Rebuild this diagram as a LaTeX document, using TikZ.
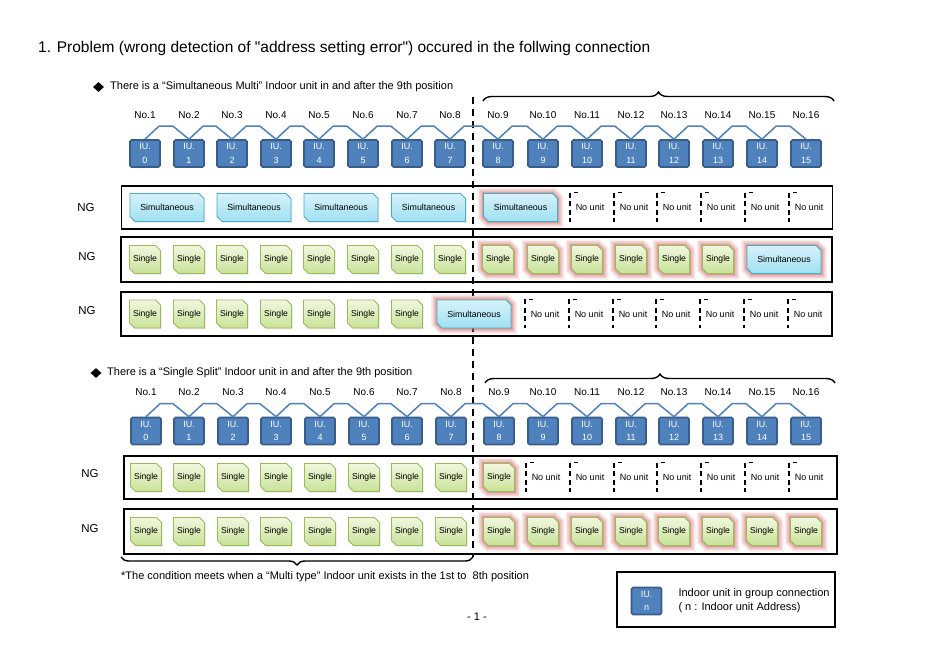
\documentclass[tikz,border=0pt]{standalone}
\usepackage{fontspec}
\setmainfont{Liberation Sans}[Ligatures=TeXOff]
\usetikzlibrary{positioning, calc, shapes.misc, shapes.geometric, decorations.pathreplacing, shadows}
\definecolor{iublue}{RGB}{79,129,189}
\definecolor{iuedge}{RGB}{56,93,138}
\definecolor{simtop}{RGB}{214,242,250}
\definecolor{simbot}{RGB}{160,224,242}
\definecolor{simedge}{RGB}{75,172,198}
\definecolor{singtop}{RGB}{240,247,222}
\definecolor{singbot}{RGB}{200,226,152}
\definecolor{singedge}{RGB}{155,187,89}
\definecolor{glowred}{RGB}{210,110,110}
\tikzset{
  iubox/.style={draw=iuedge, fill=iublue, line width=1.6pt, rounded corners=1.5pt,
    minimum width=30pt, minimum height=27pt, inner sep=0pt, text=white, align=center,
    font=\fontsize{9}{13.5}\selectfont},
  link/.style={draw=iublue, line width=1.5pt, line join=round},
  numlabel/.style={font=\fontsize{10}{12}\selectfont, inner sep=0pt},
  heading/.style={font=\fontsize{11}{13}\selectfont, inner sep=0pt, anchor=west},
  bullet/.style={diamond, fill=black, inner sep=0pt, minimum width=11pt, minimum height=10pt},
  rowframe/.style={draw, line width=1.1pt, inner sep=0pt},
  nglabel/.style={font=\fontsize{11.5}{13}\selectfont, inner sep=0pt},
  unitbox/.style={chamfered rectangle, chamfered rectangle corners={north east,south west},
    chamfered rectangle sep=2.5pt, inner sep=0pt, line width=0.9pt, minimum height=28pt,
    drop shadow={opacity=0.2, shadow xshift=1pt, shadow yshift=-1pt}},
  simbox/.style={unitbox, draw=simedge, top color=simtop, bottom color=simbot,
    minimum width=74pt, font=\fontsize{8.8}{10}\selectfont},
  singlebox/.style={unitbox, draw=singedge, top color=singtop, bottom color=singbot,
    minimum width=31pt, font=\fontsize{8.6}{10}\selectfont},
  hot/.style={preaction={draw=glowred, line width=12pt, opacity=0.12},
    preaction={draw=glowred, line width=9pt, opacity=0.18},
    preaction={draw=glowred, line width=6pt, opacity=0.25},
    preaction={draw=glowred, line width=3pt, opacity=0.35}},
  nounit/.style={font=\fontsize{9}{11}\selectfont, inner sep=0pt},
  slotline/.style={line width=1.1pt, dash pattern=on 5pt off 3.5pt},
  slottick/.style={line width=1pt},
  cutline/.style={line width=1.2pt, dash pattern=on 7pt off 5pt},
  bracestyle/.style={decorate, decoration={brace, amplitude=9pt}, line width=1.4pt},
  plain/.style={font=\fontsize{11}{14}\selectfont, inner sep=0pt}
}
\newcommand{\emptyslot}[3]{% name, position, xshift
  \node[nounit, xshift=#3] (#1) at (#2) {No unit};
  \draw[slotline] ([xshift=-20pt,yshift=15pt]#1.center) -- ([xshift=-20pt,yshift=-14pt]#1.center);
  \draw[slottick] ([xshift=-16pt,yshift=15pt]#1.center) -- ([xshift=-12pt,yshift=15pt]#1.center);}

\begin{document}
\begin{tikzpicture}[x=1pt, y=-1pt]
  \useasboundingbox[fill=white] (0,0) rectangle (936,661);
  \node[anchor=base west, inner sep=0pt, font=\fontsize{15.5}{18}\selectfont] (title) at (38,52.5)
    {1. Problem (wrong detection of "address setting error") occured in the follwing connection};

  % 8th / 9th border, behind the units
  \coordinate (cutTop) at (473,97);
  \coordinate (cutBot) at (473,557);
  \draw[cutline] (cutTop) -- (cutBot);

  % case A: simultaneous multi after No.9
  \node[bullet] (dotA) at (98.5,87) {};
  \node[heading] (headA) at (110,87) {There is a “Simultaneous Multi” Indoor unit in and after the 9th position};
  \foreach \x [count=\n, evaluate=\n as \i using int(\n-1)] in {145,189,232,276,319,363,407,450,498,543,587,631,674,718,762,806} {
    \node[numlabel] (noA\i) at (\x,115) {No.\n};
    \node[iubox] (iuA\i) at (\x,153.5) {IU.\\\i};
  }
  \foreach \i [evaluate=\i as \j using int(\i+1)] in {0,...,14}
    \draw[link] (iuA\i.north) -- ++(14,-13) -- ([xshift=-16pt,yshift=13pt]iuA\j.north) -- (iuA\j.north);

  \node[rowframe, minimum width=711pt, minimum height=43pt] (rowA1) at (477,207.5) {};
  \node[nglabel] (ngA1) at (86,208) {NG};
  \foreach \a/\b [count=\k] in {0/1,2/3,4/5,6/7}
    \node[simbox] (simA1\k) at ($(iuA\a |- rowA1)!0.5!(iuA\b |- rowA1)$) {Simultaneous};
  \node[simbox, hot] (simA1e) at ($(iuA8 |- rowA1)!0.5!(iuA9 |- rowA1)$) {Simultaneous};
  \foreach \i in {10,...,15} {\emptyslot{slotA1\i}{iuA\i |- rowA1}{3pt}}

  \node[rowframe, minimum width=711pt, minimum height=45pt] (rowA2) at (476.5,259.5) {};
  \node[nglabel] (ngA2) at (87,257) {NG};
  \foreach \i in {0,...,7} \node[singlebox] (sngA2\i) at (iuA\i |- rowA2) {Single};
  \foreach \i in {8,...,13} \node[singlebox, hot] (sngA2\i) at (iuA\i |- rowA2) {Single};
  \node[simbox, hot] (simA2) at ($(iuA14 |- rowA2)!0.5!(iuA15 |- rowA2)$) {Simultaneous};

  \node[rowframe, minimum width=711pt, minimum height=44pt] (rowA3) at (476.5,314) {};
  \node[nglabel] (ngA3) at (87,311) {NG};
  \foreach \i in {0,...,6} \node[singlebox] (sngA3\i) at (iuA\i |- rowA3) {Single};
  \node[simbox, hot] (simA3) at ($(iuA7 |- rowA3)!0.5!(iuA8 |- rowA3)$) {Simultaneous};
  \foreach \i in {9,...,15} {\emptyslot{slotA3\i}{iuA\i |- rowA3}{2pt}}

  % case B: single split after No.9
  \node[bullet] (dotB) at (96,373) {};
  \node[heading] (headB) at (107,373) {There is a “Single Split” Indoor unit in and after the 9th position};
  \foreach \x [count=\n, evaluate=\n as \i using int(\n-1)] in {146,189,233,276,320,364,407,451,499,543,587,631,674,718,762,806} {
    \node[numlabel] (noB\i) at (\x,392) {No.\n};
    \node[iubox] (iuB\i) at (\x,431) {IU.\\\i};
  }
  \foreach \i [evaluate=\i as \j using int(\i+1)] in {0,...,14}
    \draw[link] (iuB\i.north) -- ++(14,-13) -- ([xshift=-16pt,yshift=13pt]iuB\j.north) -- (iuB\j.north);

  \node[rowframe, minimum width=713pt, minimum height=43pt] (rowB1) at (480.5,477.5) {};
  \node[nglabel] (ngB1) at (90,474) {NG};
  \foreach \i in {0,...,7} \node[singlebox] (sngB1\i) at (iuB\i |- rowB1) {Single};
  \node[singlebox, hot] (sngB18) at (iuB8 |- rowB1) {Single};
  \foreach \i in {9,...,15} {\emptyslot{slotB1\i}{iuB\i |- rowB1}{3pt}}

  \node[rowframe, minimum width=713pt, minimum height=45pt] (rowB2) at (480.5,531.5) {};
  \node[nglabel] (ngB2) at (90,529) {NG};
  \foreach \i in {0,...,7} \node[singlebox] (sngB2\i) at (iuB\i |- rowB2) {Single};
  \foreach \i in {8,...,15} \node[singlebox, hot] (sngB2\i) at (iuB\i |- rowB2) {Single};

  % braces
  \coordinate (braceAl) at (483,101);
  \coordinate (braceAr) at (834,101);
  \draw[bracestyle] (braceAl) -- (braceAr);
  \coordinate (braceBl) at (485,383);
  \coordinate (braceBr) at (835,383);
  \draw[bracestyle] (braceBl) -- (braceBr);
  \coordinate (braceCl) at (121,557);
  \draw[bracestyle, decoration={mirror, amplitude=8pt}] (braceCl) -- (cutBot);

  \node[plain, anchor=west] (note) at (121,577)
    {*The condition meets when a “Multi type” Indoor unit exists in the 1st to\ \ 8th position};
  \node[plain] (page) at (477,617) {- 1 -};

  % legend
  \node[rowframe, minimum width=218pt, minimum height=55pt] (legend) at (726,599.5) {};
  \node[iubox] (iuKey) at (646.5,601) {IU.\\n};
  \node[plain, align=left, right=16pt of iuKey] (keyText) {Indoor unit in group connection\\( n : Indoor unit Address)};
\end{tikzpicture}
\end{document}
